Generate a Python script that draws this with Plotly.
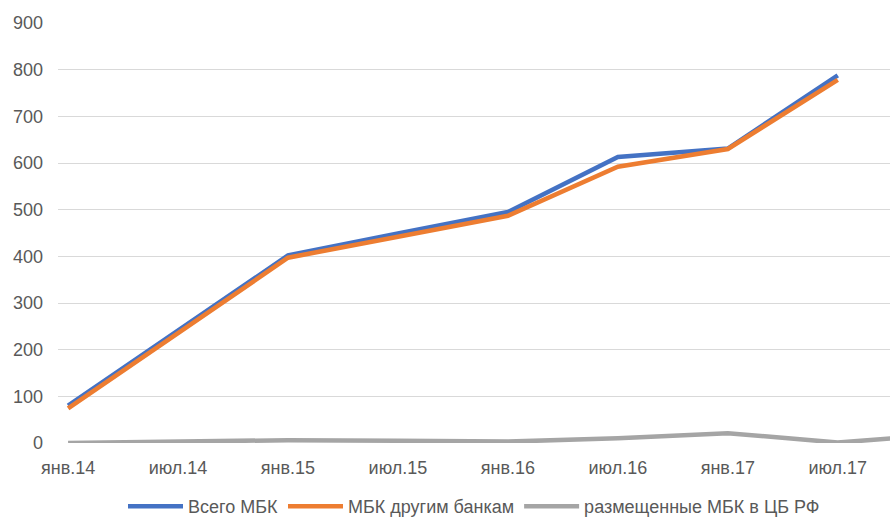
import plotly.graph_objects as go

categories = ["янв.14", "июл.14", "янв.15", "июл.15", "янв.16", "июл.16", "янв.17", "июл.17", "янв.18"]
total_mbk = [80, 241, 402, 449, 495, 613, 631, 788, None]
other_banks = [74, 236, 397, 442, 487, 592, 630, 778, None]
cbr_placed = [0, 3, 6, 5, 3, 10, 21, 1, 19]
y_ticks = [0, 100, 200, 300, 400, 500, 600, 700, 800, 900]

series = [
    ("Всего МБК", total_mbk, "#4472C4"),
    ("МБК другим банкам", other_banks, "#ED7D31"),
    ("размещенные МБК в ЦБ РФ", cbr_placed, "#A5A5A5"),
]

fig = go.Figure()
for name, vals, color in series:
    fig.add_trace(go.Scatter(
        x=categories, y=vals, name=name, mode="lines",
        line=dict(color=color, width=4.5), connectgaps=False,
    ))

font_family = "Liberation Sans, Arial, sans-serif"
fig.update_layout(
    width=890, height=518,
    margin=dict(l=58, r=0, t=23, b=75, autoexpand=False),
    paper_bgcolor="white", plot_bgcolor="white",
    font=dict(family=font_family, size=18, color="#595959"),
    showlegend=True,
    legend=dict(orientation="h", x=0.5, xanchor="center",
                yref="container", y=0.022, yanchor="middle",
                font=dict(size=18, color="#595959"), itemwidth=55,
                traceorder="normal"),
    xaxis=dict(type="category", categoryorder="array", categoryarray=categories,
               range=[-0.0917, 7.475], showgrid=False, zeroline=False, showline=False,
               ticks="", ticklabelstandoff=12, tickfont=dict(size=18, color="#595959")),
    yaxis=dict(range=[0, 900], tickvals=y_ticks, showgrid=True, gridcolor="#D9D9D9",
               gridwidth=1.3, zeroline=False, showline=False, ticks="",
               ticklabelstandoff=14, tickfont=dict(size=18, color="#595959")),
)

fig.write_html("out.html")
